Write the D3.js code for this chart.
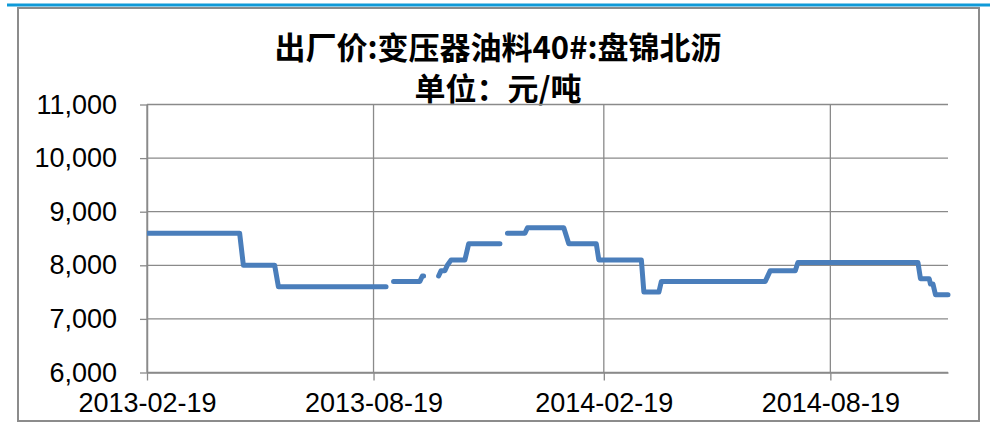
<!DOCTYPE html>
<html>
<head>
<meta charset="utf-8">
<script src="https://cdn.jsdelivr.net/npm/d3@7"></script>
<style>
  body { margin: 0; background: #fff; }
  svg text { font-family: "Liberation Sans", Arial, sans-serif; fill: #000; }
</style>
</head>
<body>
<div id="chart"></div>
<script>
// Data (null = gap in the series)
const dates = [
  "2013-02-19", "2013-05-04", "2013-05-07", "2013-06-01", "2013-06-04", "2013-08-29",
  "2013-09-01",
  "2013-09-04", "2013-09-25", "2013-09-27", "2013-09-28",
  "2013-10-05",
  "2013-10-10", "2013-10-12", "2013-10-15", "2013-10-17", "2013-10-20", "2013-10-31",
  "2013-11-03", "2013-11-28",
  "2013-12-01",
  "2013-12-04", "2013-12-18", "2013-12-20", "2014-01-18", "2014-01-22", "2014-02-13",
  "2014-02-15", "2014-03-21", "2014-03-23", "2014-04-04", "2014-04-06", "2014-06-28",
  "2014-07-02", "2014-07-22", "2014-07-24", "2014-10-28", "2014-10-30", "2014-11-06",
  "2014-11-07", "2014-11-09", "2014-11-11", "2014-11-21"
];
const prices = [
  8600, 8600, 8000, 8000, 7600, 7600,
  null,
  7700, 7700, 7800, 7800,
  null,
  7800, 7900, 7900, 8000, 8100, 8100,
  8400, 8400,
  null,
  8600, 8600, 8700, 8700, 8400, 8400,
  8100, 8100, 7500, 7500, 7700, 7700,
  7900, 7900, 8050, 8050, 7750, 7750,
  7650, 7650, 7450, 7450
];
const xTickLabels = ["2013-02-19", "2013-08-19", "2014-02-19", "2014-08-19"];
const yTickValues = [6000, 7000, 8000, 9000, 10000, 11000];
const titleLines = ["出厂价:变压器油料40#:盘锦北沥", "单位：元/吨"];

const W = 995, H = 423;
const margin = { top: 104.5, right: 47, bottom: 50.5, left: 147 };
const width = W - margin.left - margin.right,
      height = H - margin.top - margin.bottom;

const parse = d3.timeParse("%Y-%m-%d");
const series = dates.map((d, i) => ({ date: parse(d), value: prices[i] }));

const svg = d3.select("#chart")
  .append("svg")
  .attr("width", W)
  .attr("height", H);

// top accent bar and outer frame
svg.append("rect")
  .attr("x", 7).attr("y", 3.5).attr("width", 983).attr("height", 3)
  .attr("fill", "#0f9ad8");
svg.append("rect")
  .attr("x", 18).attr("y", 8).attr("width", 961).attr("height", 413)
  .attr("fill", "none").attr("stroke", "#8c8c8c").attr("stroke-width", 2);

// title
svg.selectAll("text.title")
  .data(titleLines)
  .join("text")
  .attr("class", "title")
  .attr("x", 498)
  .attr("y", (d, i) => 59 + i * 41)
  .attr("text-anchor", "middle")
  .style("font-family", "'Noto Sans CJK SC', sans-serif")
  .style("font-weight", "bold")
  .style("font-size", "31px")
  .text(d => d);

const g = svg.append("g")
  .attr("transform", `translate(${margin.left},${margin.top})`);

// scales
const x = d3.scaleTime()
  .domain(d3.extent(series, d => d.date))
  .range([0, width]);

const y = d3.scaleLinear()
  .domain([6000, 11000])
  .range([height, 0]);

const xTicks = xTickLabels.map(parse);

// gridlines
g.append("g")
  .selectAll("line")
  .data(yTickValues)
  .join("line")
  .attr("x1", 0).attr("x2", width)
  .attr("y1", d => y(d)).attr("y2", d => y(d))
  .attr("stroke", "#8a8a8a").attr("stroke-width", 1.3);

g.append("g")
  .selectAll("line")
  .data(xTicks)
  .join("line")
  .attr("x1", d => x(d)).attr("x2", d => x(d))
  .attr("y1", 0).attr("y2", height)
  .attr("stroke", "#8a8a8a").attr("stroke-width", 1.3);

// Y axis
const yAxis = g.append("g")
  .call(d3.axisLeft(y).tickValues(yTickValues).tickSize(7).tickSizeOuter(0).tickPadding(23)
    .tickFormat(d3.format(",")));
yAxis.select(".domain").attr("stroke", "#8a8a8a").attr("stroke-width", 1.5);
yAxis.selectAll(".tick line").attr("stroke", "#8a8a8a").attr("stroke-width", 1.3);
yAxis.selectAll("text")
  .style("font-size", "27px")
  .attr("fill", "#000");

// X axis
const xAxis = g.append("g")
  .attr("transform", `translate(0,${height})`)
  .call(d3.axisBottom(x).tickValues(xTicks).tickSize(8).tickSizeOuter(0).tickPadding(12)
    .tickFormat(d3.timeFormat("%Y-%m-%d")));
xAxis.select(".domain").attr("stroke", "#8a8a8a").attr("stroke-width", 1.5);
xAxis.selectAll(".tick line").attr("stroke", "#8a8a8a").attr("stroke-width", 1.3);
xAxis.selectAll("text")
  .style("font-size", "27px")
  .attr("fill", "#000");

// clip so the line starts flush with the y axis
svg.append("defs").append("clipPath").attr("id", "plotClip")
  .append("rect").attr("x", 0).attr("y", -10).attr("width", width + 10).attr("height", height + 20);

// price line
const line = d3.line()
  .defined(d => d.value != null)
  .x(d => x(d.date))
  .y(d => y(d.value));

g.append("path")
  .datum(series)
  .attr("clip-path", "url(#plotClip)")
  .attr("fill", "none")
  .attr("stroke", "#4a7ebb")
  .attr("stroke-width", 5)
  .attr("stroke-linecap", "round")
  .attr("stroke-linejoin", "round")
  .attr("d", line);
</script>
</body>
</html>
